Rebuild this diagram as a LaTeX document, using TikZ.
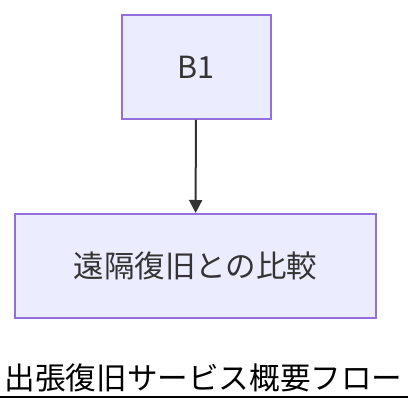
\documentclass[tikz,border=0pt]{standalone}
\usepackage{fontspec}
\newfontfamily\jpfont{Noto Sans CJK JP}
\usetikzlibrary{positioning,arrows.meta}
\definecolor{boxfill}{HTML}{ECECFF}
\definecolor{boxline}{HTML}{9370DB}
\definecolor{ink}{HTML}{333333}
\newcommand\boxh{104}
\tikzset{box/.style={rectangle,draw=boxline,fill=boxfill,line width=2pt,minimum height=\boxh pt,text=ink,font=\jpfont\fontsize{30.5}{36}\selectfont},
         flow/.style={draw=ink,line width=2pt,-{Triangle[length=13pt,width=13pt]}}}
\begin{document}
\begin{tikzpicture}[x=1pt,y=1pt]
                \useasboundingbox (0,0) rectangle (408,412);
                \node[box, minimum width=149pt] (b1) at (196,345) {B1};
                \node[box, minimum width=361pt] (compare) at (195.5,146) {遠隔復旧との比較};
                \draw[flow] (b1) -- (compare);

                \node[font=\jpfont\fontsize{30.6}{36}\selectfont, inner sep=0pt, anchor=base] (title) at (203.5,22) {出張復旧サービス概要フロー};
                \draw[line width=1.4pt] (0,15) -- (408,15);
            \end{tikzpicture}
\end{document}
